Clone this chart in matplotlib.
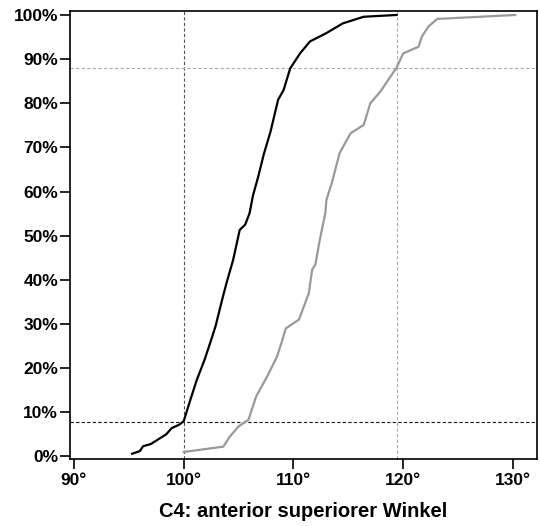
import matplotlib
matplotlib.use("Agg")
import matplotlib.pyplot as plt
from matplotlib.ticker import FuncFormatter

plt.rcParams['font.family'] = ['Liberation Sans', 'DejaVu Sans']

# Black series (angle in degrees, cumulative percent)
black_x = [95.3, 96.0, 96.3, 97.0, 97.7, 98.4, 98.9, 99.6, 100.0, 100.6, 101.2, 101.9,
           102.5, 102.9, 103.5, 103.9, 104.5, 105.1, 105.6, 106.0, 106.3, 106.8,
           107.3, 107.9, 108.6, 109.1, 109.7, 110.6, 111.5, 113.0, 114.5, 116.4, 119.4]
black_y = [0.6, 1.2, 2.3, 2.8, 3.9, 5.0, 6.4, 7.2, 8.0, 12.8, 17.4, 21.9,
           26.4, 29.5, 35.5, 39.3, 44.5, 51.3, 52.5, 55.1, 59.0, 63.5,
           68.5, 73.5, 80.8, 83.0, 87.9, 91.3, 94.0, 95.9, 98.1, 99.6, 100.0]

# Gray series
gray_x = [100.0, 103.6, 104.2, 105.0, 105.9, 106.6, 107.6, 108.5, 108.9, 109.3,
          110.5, 111.4, 111.7, 112.0, 112.4, 112.9, 113.0, 113.5, 114.2, 115.2,
          116.4, 117.0, 117.9, 119.4, 120.0, 121.4, 121.7, 122.3, 123.1, 130.2]
gray_y = [1.0, 2.2, 4.5, 6.8, 8.3, 13.6, 18.1, 22.6, 25.7, 29.0,
          31.0, 37.0, 42.3, 43.5, 49.1, 55.1, 58.1, 62.0, 68.7, 73.2,
          75.1, 80.0, 82.6, 88.1, 91.3, 92.8, 95.1, 97.4, 99.1, 100.0]

# Reference lines
vline_x = [100.0, 119.4]
hline_y = [7.8, 88.1]

x_ticks = [90, 100, 110, 120, 130]
y_ticks = [0, 10, 20, 30, 40, 50, 60, 70, 80, 90, 100]
xlabel = "C4: anterior superiorer Winkel"

fig = plt.figure(figsize=(5.40, 5.26), dpi=100)
ax = fig.add_axes([70/540, 1 - 459/526, (537 - 70)/540, (459 - 11)/526])

dash = (0, (3, 2))
ax.axvline(vline_x[0], color='#555555', lw=0.8, ls=dash, zorder=1)
ax.axvline(vline_x[1], color='#aaaaaa', lw=0.8, ls=dash, zorder=1)
ax.axhline(hline_y[0], color='#111111', lw=0.8, ls=dash, zorder=1)
ax.axhline(hline_y[1], color='#aaaaaa', lw=0.8, ls=dash, zorder=1)

ax.plot(gray_x, gray_y, color='#999999', lw=1.6, zorder=2)
ax.plot(black_x, black_y, color='black', lw=1.6, zorder=3)

ax.set_xlim(89.636, 132.19)
ax.set_ylim(-0.59, 100.9)
ax.set_xticks(x_ticks)
ax.set_yticks(y_ticks)
ax.xaxis.set_major_formatter(FuncFormatter(lambda v, p: f"{v:.0f}°"))
ax.yaxis.set_major_formatter(FuncFormatter(lambda v, p: f"{v:.0f}%"))

for lab in ax.get_xticklabels() + ax.get_yticklabels():
    lab.set_fontweight('bold')
    lab.set_fontsize(12.5)
ax.tick_params(axis='y', length=7.5, width=1.2, pad=1)
ax.tick_params(axis='x', length=7, width=1.2, pad=3)
for s in ax.spines.values():
    s.set_linewidth(1.2)

ax.set_xlabel(xlabel, fontsize=14.5, fontweight='bold', labelpad=10)

fig.savefig("out.png", dpi=100)
